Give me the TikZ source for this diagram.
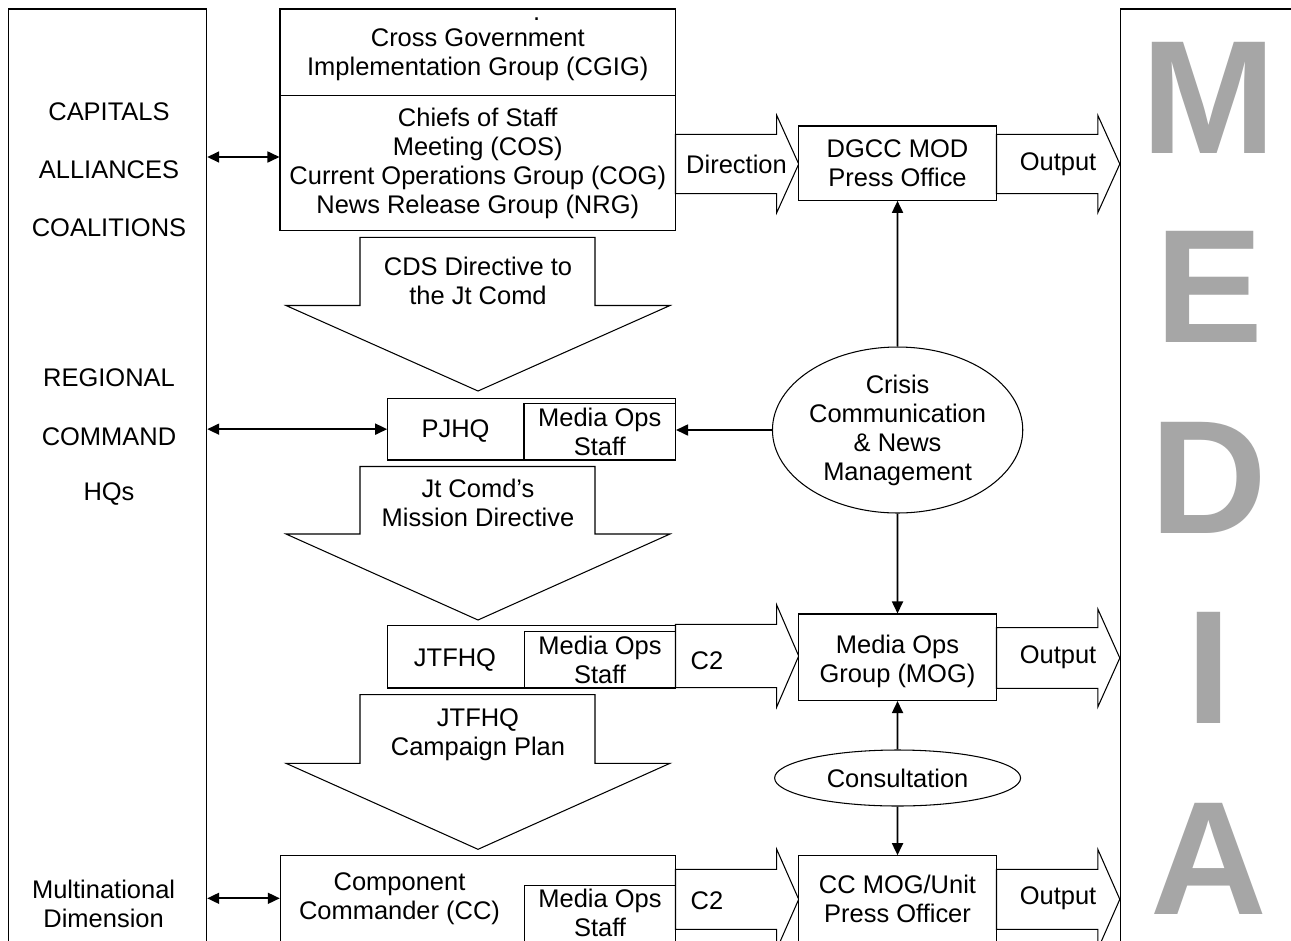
\documentclass[tikz,border=0pt]{standalone}
\usepackage{fontspec}
\setmainfont{Liberation Sans}
\usetikzlibrary{shapes.geometric, arrows.meta, fit, calc}
\definecolor{cLetter}{RGB}{166,166,166}
\tikzset{
	box/.style       ={rectangle, draw=black, line width=0.6pt, inner sep=0pt, fill=white},
	oval/.style      ={ellipse, draw=black, line width=0.6pt, inner sep=0pt, align=center, fill=white},
	blockarrow/.style={draw=black, line width=0.6pt, fill=white},
	lbl/.style       ={align=center, inner sep=0pt},
	sig/.style       ={-{Triangle[length=2.4mm, width=2.2mm]}, line width=1pt},
	dsig/.style      ={{Triangle[length=2.4mm, width=2.2mm]}-{Triangle[length=2.4mm, width=2.2mm]}, line width=1pt},
	mediaword/.style ={inner sep=0pt, text=cLetter, font=\fontsize{92}{92}\selectfont\bfseries},
}
% down block arrow: top y, head base y, tip y
\newcommand{\dnArrow}[3]{%
	\draw[blockarrow] (360,#1) -- (595,#1) -- (595,#2) -- (670,#2) -- (478,#3) -- (286,#2) -- (360,#2) -- cycle;}
% right block arrow: start x, head base x, centre y, shaft half, head half
\newcommand{\rtArrow}[5]{%
	\draw[blockarrow] (#1,{#3-#4}) -- (#2,{#3-#4}) -- (#2,{#3-#5}) -- ({#2+22},#3) -- (#2,{#3+#5}) -- (#2,{#3+#4}) -- (#1,{#3+#4}) -- cycle;}

\begin{document}
\begin{tikzpicture}[x=0.02cm, y=-0.02cm, font=\fontsize{14.5}{16.5}\selectfont]
	\useasboundingbox (0,0) rectangle (1291,940);
	\clip (0,0) rectangle (1291,940);
	% outer columns
	\node[box, fit={(8.9,9) (206.7,960)}] (leftbox) {};
	\node[box, fit={(1120.5,9) (1320,960)}] (mediabox) {};
	\node[mediaword] (letM) at (1209,98) {M};
	\node[mediaword] (letE) at (1209,287) {E};
	\node[mediaword] (letD) at (1209,477.5) {D};
	\node[mediaword] (letI) at (1209,668) {I};
	\node[mediaword] (letA) at (1209,859) {A};
	\node[lbl] (capitals) at (109,112) {CAPITALS};
	\node[lbl] (alliances) at (109,170) {ALLIANCES};
	\node[lbl] (coalitions) at (109,228) {COALITIONS};
	\node[lbl] (regional) at (109,378) {REGIONAL};
	\node[lbl] (command) at (109,437) {COMMAND};
	\node[lbl] (hqs) at (109,494) {HQs};
	\node[lbl] (multinat) at (103.6,904) {Multinational\\Dimension};
	% strategic level
	\node[box, fit={(280,9) (675.5,95.7)}] (cgig) {};
	\node[lbl] (cgiglbl) at ([yshift=-0.045cm]cgig.center) {Cross Government\\Implementation Group (CGIG)};
	\node[anchor=base, inner sep=0pt] (dot) at (536.7,20.5) {.};
	\node[box, fit={(280,95.7) (675.5,230.7)}] (cos) {};
	\node[lbl] (coslbl) at (cos.center) {Chiefs of Staff\\Meeting (COS)\\Current Operations Group (COG)\\News Release Group (NRG)};
	\rtArrow{675.5}{776.7}{164}{29.7}{48.7}
	\node[lbl] (direction) at (736.5,164) {Direction};
	\node[box, fit={(798.5,126) (996.5,200.3)}] (dgcc) {};
	\node[lbl] (dgcclbl) at (dgcc.center) {DGCC MOD\\Press Office};
	\rtArrow{996.5}{1097.8}{164}{29.7}{48.7}
	\node[lbl] (out1) at (1058,164) {Output};
	\coordinate (capY) at (0,157);
	\draw[dsig] (leftbox.east |- capY) -- (cos.west |- capY);
	% PJHQ
	\dnArrow{237.3}{305.5}{391}
	\node[lbl] (cdsdir) at (478,281) {CDS Directive to\\the Jt Comd};
	\node[box, fit={(387.7,398.3) (675.5,460)}] (pjhq) {};
	\node[box, fit={(524,403.5) (675.5,460)}] (pjhqstaff) {};
	\node[lbl] (pjhqstafflbl) at (pjhqstaff.center) {Media Ops\\Staff};
	\node[lbl] (pjhqlbl) at (455.5,431) {PJHQ};
	\draw[dsig] (leftbox.east |- pjhq.west) -- (pjhq.west);
	\node[oval, minimum width=4.92cm, minimum height=3.32cm] (crisis) at (897.6,430) {Crisis\\Communication\\\& News\\Management};
	\draw[sig] (crisis.west) -- (pjhqstaff.east |- crisis.west);
	\draw[sig] (crisis.north) -- (dgcc.south);
	% JTFHQ
	\dnArrow{466.5}{534}{620}
	\node[lbl] (missiondir) at (478,503) {Jt Comd’s\\Mission Directive};
	\node[box, fit={(387.5,625.5) (675.5,688)}] (jtfhq) {};
	\node[box, fit={(524.5,631.5) (675.5,688)}] (jtfhqstaff) {};
	\node[lbl] (jtfhqstafflbl) at (jtfhqstaff.center) {Media Ops\\Staff};
	\node[lbl] (jtfhqlbl) at (455,660) {JTFHQ};
	\rtArrow{675.5}{776.7}{656}{31.7}{51}
	\node[lbl] (c2a) at (707,661) {C2};
	\node[box, fit={(798.5,614) (996.5,700.5)}] (mog) {};
	\node[lbl] (moglbl) at ([yshift=-0.08cm]mog.center) {Media Ops\\Group (MOG)};
	\rtArrow{996.5}{1097.8}{658}{30.3}{49}
	\node[lbl] (out2) at (1058,657) {Output};
	\draw[sig] (crisis.south) -- (mog.north);
	% component commander
	\dnArrow{694.7}{763.3}{849.3}
	\node[lbl] (campaign) at (478,734.5) {JTFHQ\\Campaign Plan};
	\node[box, fit={(280.3,855.7) (675.5,960)}] (cc) {};
	\node[lbl] (cclbl) at (399.5,899) {Component\\Commander (CC)};
	\node[box, fit={(524.5,885.3) (675.5,960)}] (ccstaff) {};
	\node[lbl] (ccstafflbl) at (600,913) {Media Ops\\Staff};
	\rtArrow{675.5}{776.7}{899.3}{30}{50}
	\node[lbl] (c2b) at (707,901) {C2};
	\node[box, fit={(798.5,855.7) (996.5,960)}] (ccmog) {};
	\node[lbl] (ccmoglbl) at (897.5,899) {CC MOG/Unit\\Press Officer};
	\rtArrow{996.5}{1097.8}{899.3}{30}{50}
	\node[lbl] (out3) at (1058,898.3) {Output};
	\node[oval, minimum width=4.92cm, minimum height=1.12cm] (consult) at (897.6,778) {Consultation};
	\draw[sig] (consult.north) -- (mog.south);
	\draw[sig] (consult.south) -- (ccmog.north);
	\coordinate (ccY) at (0,898.3);
	\draw[dsig] (leftbox.east |- ccY) -- (cc.west |- ccY);
\end{tikzpicture}
\end{document}
